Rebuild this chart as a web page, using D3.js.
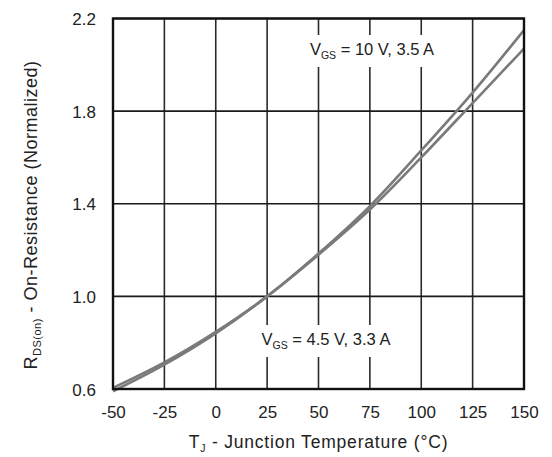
<!DOCTYPE html>
<html>
<head>
<meta charset="utf-8">
<script src="https://cdn.jsdelivr.net/npm/d3@7"></script>
<style>
  html, body { margin: 0; padding: 0; background: #fff; }
  svg { display: block; font-family: "Liberation Sans", Arial, sans-serif; }
</style>
</head>
<body>
<svg id="chart" width="552" height="457"></svg>
<script>
// Junction temperature (°C) and normalized on-resistance for the two bias conditions
const temps = [-50, -25, 0, 25, 50, 75, 100, 125, 150];
const rdsHigh = [0.59, 0.705, 0.84, 1.0, 1.185, 1.39, 1.63, 1.88, 2.15];
const rdsLow = [0.605, 0.715, 0.847, 1.0, 1.18, 1.375, 1.60, 1.835, 2.07];
const xTicks = [-50, -25, 0, 25, 50, 75, 100, 125, 150];
const yTicks = [0.6, 1.0, 1.4, 1.8, 2.2];

const svg = d3.select("#chart");
const m = { left: 113, right: 524, top: 18.5, bottom: 389 };

const x = d3.scaleLinear().domain([-50, 150]).range([m.left, m.right]);
const y = d3.scaleLinear().domain([0.6, 2.2]).range([m.bottom, m.top]);

// Grid
const grid = svg.append("g");
grid.selectAll("line.v").data(xTicks).join("line")
  .attr("x1", d => x(d)).attr("x2", d => x(d))
  .attr("y1", m.top).attr("y2", m.bottom)
  .attr("stroke", "#2a2a2a").attr("stroke-width", 1.6);
grid.selectAll("line.h").data(yTicks).join("line")
  .attr("x1", m.left).attr("x2", m.right)
  .attr("y1", d => y(d)).attr("y2", d => y(d))
  .attr("stroke", "#1a1a1a").attr("stroke-width", 1.6);

// Curves
const line = d3.line().x((d, i) => x(temps[i])).y(d => y(d)).curve(d3.curveMonotoneX);
[rdsHigh, rdsLow].forEach(s => {
  svg.append("path").datum(s).attr("d", line)
    .attr("fill", "none").attr("stroke", "#7a7a7a").attr("stroke-width", 2.6);
});

// Condition labels on white backing
function condLabel(cx, by, rest) {
  const g = svg.append("g");
  const t = g.append("text").attr("x", cx).attr("y", by)
    .attr("text-anchor", "middle").attr("font-size", 16.5).attr("fill", "#222");
  t.append("tspan").text("V");
  t.append("tspan").attr("font-size", 10.5).attr("dy", 4).text("GS");
  t.append("tspan").attr("dy", -4).text(" = " + rest);
  const bb = t.node().getBBox();
  g.insert("rect", "text").attr("x", bb.x - 3).attr("y", by - 20)
    .attr("width", bb.width + 6).attr("height", 32).attr("fill", "#fff");
}
condLabel(372, 55, "10 V, 3.5 A");
condLabel(326, 345, "4.5 V, 3.3 A");

// Frame
svg.append("rect").attr("x", m.left).attr("y", m.top)
  .attr("width", m.right - m.left).attr("height", m.bottom - m.top)
  .attr("fill", "none").attr("stroke", "#111").attr("stroke-width", 2.4);

// Axes (plain hyphen for negative values)
const fmtX = d => String(d).replace("\u2212", "-");
const xAxis = svg.append("g").attr("transform", `translate(0,${m.bottom})`)
  .call(d3.axisBottom(x).tickValues(xTicks).tickSize(0).tickPadding(0).tickFormat(fmtX));
xAxis.select(".domain").remove();
xAxis.selectAll("text").attr("y", 29).attr("dy", 0).attr("font-size", 17)
  .attr("fill", "#222").attr("font-family", "Liberation Sans, Arial, sans-serif");

const yAxis = svg.append("g").attr("transform", `translate(${m.left},0)`)
  .call(d3.axisLeft(y).tickValues(yTicks).tickSize(0).tickPadding(0).tickFormat(d => d.toFixed(1)));
yAxis.select(".domain").remove();
yAxis.selectAll("text").attr("x", -17).attr("dy", "0.36em").attr("font-size", 17)
  .attr("fill", "#222").attr("font-family", "Liberation Sans, Arial, sans-serif");

// Axis titles
const xt = svg.append("text").attr("x", (m.left + m.right) / 2).attr("y", 448)
  .attr("text-anchor", "middle").attr("font-size", 17.5).attr("letter-spacing", 0.8).attr("fill", "#222");
xt.append("tspan").text("T");
xt.append("tspan").attr("font-size", 10.5).attr("dy", 4).text("J");
xt.append("tspan").attr("dy", -4).text(" - Junction Temperature (°C)");

const yt = svg.append("text").attr("transform", "translate(37,215) rotate(-90)")
  .attr("text-anchor", "middle").attr("font-size", 18).attr("letter-spacing", 0.5).attr("fill", "#222");
yt.append("tspan").text("R");
yt.append("tspan").attr("font-size", 11).attr("dy", 4).text("DS(on)");
yt.append("tspan").attr("dy", -4).text(" - On-Resistance (Normalized)");
</script>
</body>
</html>
